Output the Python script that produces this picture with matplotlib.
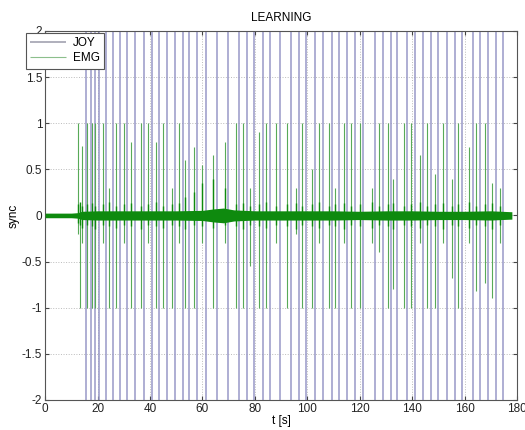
import matplotlib.pyplot as plt
import numpy as np

plt.rcParams['font.family'] = ['Liberation Sans', 'DejaVu Sans']
plt.rcParams['font.size'] = 8.5

# JOY sync pulses (s) - full-scale spikes
joy_t = [15.6, 17.5, 19.1, 20.6, 23.3, 25.9, 28.6, 31.3, 34.3, 37.8, 40.8, 43.5,
         46.5, 49.6, 52.6, 54.9, 58.0, 61.4, 65.6, 69.8, 74.0, 77.0, 79.7, 83.1,
         85.8, 89.6, 93.8, 96.9, 99.5, 103.0, 106.0, 109.5, 112.1, 115.2, 118.2,
         121.3, 125.9, 128.9, 132.0, 134.2, 138.1, 141.1, 144.2, 147.2, 149.9,
         153.3, 156.4, 159.0, 163.2, 165.9, 169.0, 172.0, 174.7]

# EMG sync spikes: time, positive peak, negative peak
emg_t = [12.6, 13.4, 14.2, 16.1, 17.7, 19.2, 21.9, 24.5, 27.2, 29.9, 32.9, 36.4,
         39.4, 42.1, 45.1, 48.2, 51.2, 53.5, 56.6, 60.0, 64.2, 68.4, 72.6, 75.6,
         78.3, 81.7, 84.4, 88.2, 92.4, 95.5, 98.1, 101.6, 104.6, 108.1, 110.7,
         113.8, 116.8, 119.9, 124.5, 127.5, 130.6, 132.8, 136.7, 139.7, 142.8,
         145.8, 148.5, 151.9, 155.0, 157.6, 161.8, 164.5, 167.6, 170.6, 173.3]
emg_up = [1.0, 0.1, 0.75, 1.0, 1.0, 1.0, 1.0, 0.3, 1.0, 1.0, 0.8, 1.0,
          1.0, 0.8, 1.0, 0.3, 1.0, 0.6, 0.74, 0.55, 0.65, 0.8, 1.0, 1.0,
          0.3, 0.9, 1.0, 1.0, 1.0, 0.3, 1.0, 0.5, 1.0, 1.0, 0.3,
          1.0, 1.0, 1.0, 0.3, 1.0, 1.0, 0.4, 1.0, 1.0, 0.65,
          1.0, 0.45, 1.0, 0.4, 1.0, 0.74, 1.0, 1.0, 0.35, 0.3]
emg_dn = [-0.2, -1.0, -0.3, -1.0, -1.0, -1.0, -0.3, -1.0, -1.0, -0.3, -1.0, -1.0,
          -0.3, -1.0, -1.0, -1.0, -0.3, -1.0, -1.0, -0.3, -1.0, -0.3, -1.0, -1.0,
          -0.55, -1.0, -1.0, -0.3, -1.0, -0.2, -1.0, -1.0, -0.3, -1.0, -1.0,
          -0.3, -1.0, -1.0, -0.3, -0.4, -1.0, -0.8, -1.0, -1.0, -0.3,
          -1.0, -1.0, -0.3, -0.68, -1.0, -0.3, -0.82, -0.73, -0.9, -0.3]
# short EMG bursts inside the noise band
burst_up = [0.12, 0.15, 0.1, 0.12, 0.14, 0.1, 0.12, 0.15, 0.1, 0.12, 0.14, 0.1,
            0.12, 0.15, 0.1, 0.12, 0.14, 0.2, 0.25, 0.35, 0.4, 0.3, 0.12, 0.14,
            0.1, 0.12, 0.15, 0.1, 0.12, 0.14, 0.1, 0.12, 0.15, 0.1, 0.12,
            0.14, 0.1, 0.12, 0.15, 0.1, 0.12, 0.14, 0.1, 0.12, 0.15,
            0.1, 0.12, 0.14, 0.1, 0.12, 0.15, 0.1, 0.12, 0.14, 0.1]
burst_dn = [-0.08, -0.1, -0.14, -0.1, -0.12, -0.15, -0.1, -0.12, -0.14, -0.1, -0.12, -0.15,
            -0.1, -0.12, -0.14, -0.1, -0.12, -0.15, -0.1, -0.12, -0.14, -0.1, -0.12, -0.15,
            -0.1, -0.12, -0.14, -0.1, -0.12, -0.15, -0.1, -0.12, -0.14, -0.1, -0.12,
            -0.15, -0.1, -0.12, -0.14, -0.1, -0.12, -0.15, -0.1, -0.12, -0.14,
            -0.1, -0.12, -0.15, -0.1, -0.12, -0.14, -0.1, -0.12, -0.15, -0.1]

# EMG baseline envelope (half-width of the noise band)
env_t = [0, 5, 10, 12.5, 14, 20, 30, 40, 50, 60, 64, 68, 72, 80, 90, 100,
         110, 120, 130, 140, 150, 160, 170, 178]
env_a = [0.025, 0.025, 0.025, 0.03, 0.045, 0.05, 0.05, 0.05, 0.05, 0.055, 0.07,
         0.08, 0.06, 0.05, 0.05, 0.05, 0.05, 0.045, 0.05, 0.05, 0.045, 0.045, 0.05, 0.04]

joy_col = '#9898c8'
sync_col = '#58aa58'
emg_col = '#0e8a0e'

fig = plt.figure(figsize=(5.25, 4.3), dpi=100)
ax = fig.add_axes([0.086, 0.07, 0.899, 0.858])

ax.vlines(joy_t, -3, 3, color=joy_col, linewidth=1.1, label='JOY')
ax.vlines(emg_t, emg_dn, emg_up, color=sync_col, linewidth=0.8, label='EMG')

env_a = np.array(env_a)
ax.fill_between(env_t, -env_a, env_a, color=emg_col, linewidth=0, zorder=3)
ax.vlines(emg_t, burst_dn, burst_up, color=emg_col, linewidth=1.0, zorder=3)

ax.set_xlim(0, 180)
ax.set_ylim(-2, 2)
ax.set_xticks(np.arange(0, 181, 20))
ax.set_yticks(np.arange(-2, 2.01, 0.5))
ax.set_yticklabels(['-2', '-1.5', '-1', '-0.5', '0', '0.5', '1', '1.5', '2'])
ax.tick_params(direction='in', length=3, color='#444444', labelcolor='#222222', pad=2,
               top=True, right=True)
ax.grid(True, linestyle=':', color='#bbbbbb', linewidth=0.7)
ax.set_axisbelow(True)
for s in ax.spines.values():
    s.set_color('#555555')
    s.set_linewidth(0.8)

ax.set_title('LEARNING', fontsize=8.5, pad=7)
ax.set_xlabel('t [s]', labelpad=0)
ax.set_ylabel('sync', labelpad=2)

leg = ax.legend(loc='upper left', bbox_to_anchor=(-0.04, 0.995), borderaxespad=0,
                fancybox=False, framealpha=1, edgecolor='#555555', handlelength=3.0,
                handletextpad=0.6, borderpad=0.35, labelspacing=0.3, fontsize=8.5)
leg.get_frame().set_linewidth(0.8)
leg.legend_handles[0].set_color('#9a9aaa')
leg.legend_handles[1].set_color('#8cbf8c')

fig.savefig('out.png', dpi=100)
